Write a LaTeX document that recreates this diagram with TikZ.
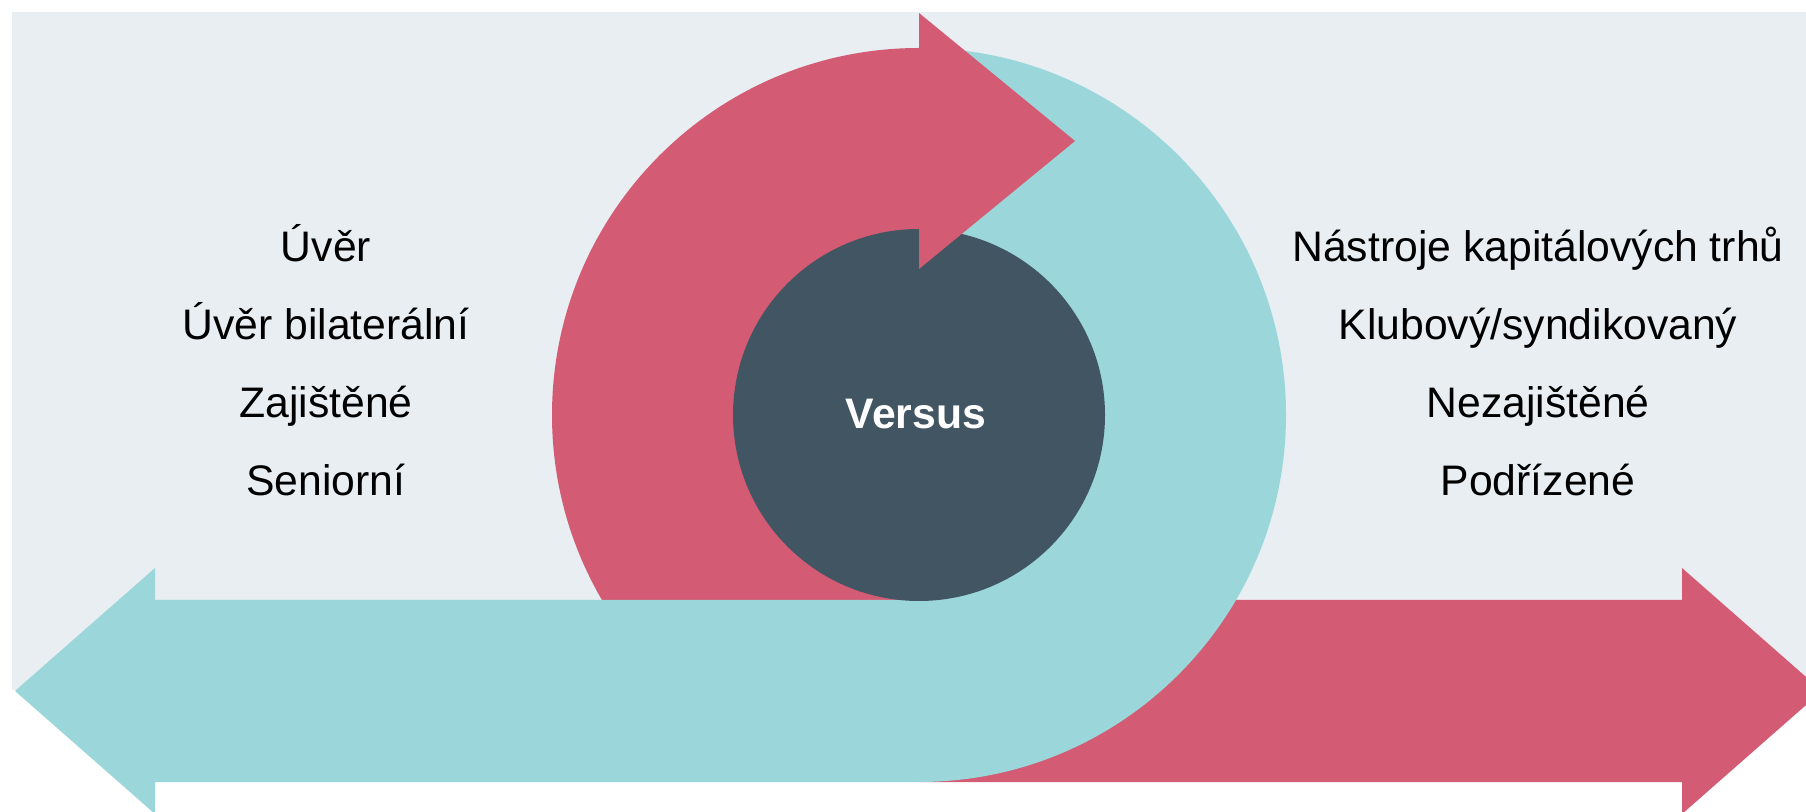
\documentclass[tikz,border=0pt]{standalone}
\usepackage{fontspec}
\setmainfont{Liberation Sans}
\definecolor{bgc}{RGB}{232,238,241}
\definecolor{redc}{RGB}{211,91,115}
\definecolor{cyanc}{RGB}{155,215,218}
\definecolor{darkc}{RGB}{66,85,99}
\begin{document}
\begin{tikzpicture}[x=1pt,y=1pt,
  lbl/.style={anchor=base,inner sep=0pt,font=\fontsize{42.7}{50}\selectfont,text=black},
  vs/.style={anchor=base,inner sep=0pt,font=\fontsize{42.7}{50}\selectfont\bfseries,text=white}]
\useasboundingbox (0,0) rectangle (1806,811);
% background
\fill[bgc] (12,121) rectangle (1806,799);
% red body: left half ring + right arrow
\fill[redc] (919,763) arc[start angle=90,end angle=270,radius=367]
  -- (1682,29) -- (1682,-3) -- (1822,120) -- (1682,243) -- (1682,211)
  -- (919,211) arc[start angle=270,end angle=90,radius=184] -- cycle;
% cyan body: right half ring + left arrow
\fill[cyanc] (919,763) arc[start angle=90,end angle=-90,radius=367]
  -- (155,29) -- (155,-3) -- (15,120) -- (155,243) -- (155,211)
  -- (919,211) arc[start angle=-90,end angle=90,radius=184] -- cycle;
% centre disc
\node[circle,fill=darkc,minimum size=372pt,inner sep=0pt] (c) at (919,396) {};
% red arrow head at the top
\fill[redc] (919,798) -- (1075,670) -- (919,542) -- cycle;
\node[vs] (v) at (916,382) {Versus};
% left column
\node[lbl] (l1) at (326,549) {Úvěr};
\node[lbl] (l2) at (326,471) {Úvěr bilaterální};
\node[lbl] (l3) at (326,393) {Zajištěné};
\node[lbl] (l4) at (326,315) {Seniorní};
% right column
\node[lbl] (r1) at (1538,549) {Nástroje kapitálových trhů};
\node[lbl] (r2) at (1538,471) {Klubový/syndikovaný};
\node[lbl] (r3) at (1538,393) {Nezajištěné};
\node[lbl] (r4) at (1538,315) {Podřízené};
\end{tikzpicture}
\end{document}
